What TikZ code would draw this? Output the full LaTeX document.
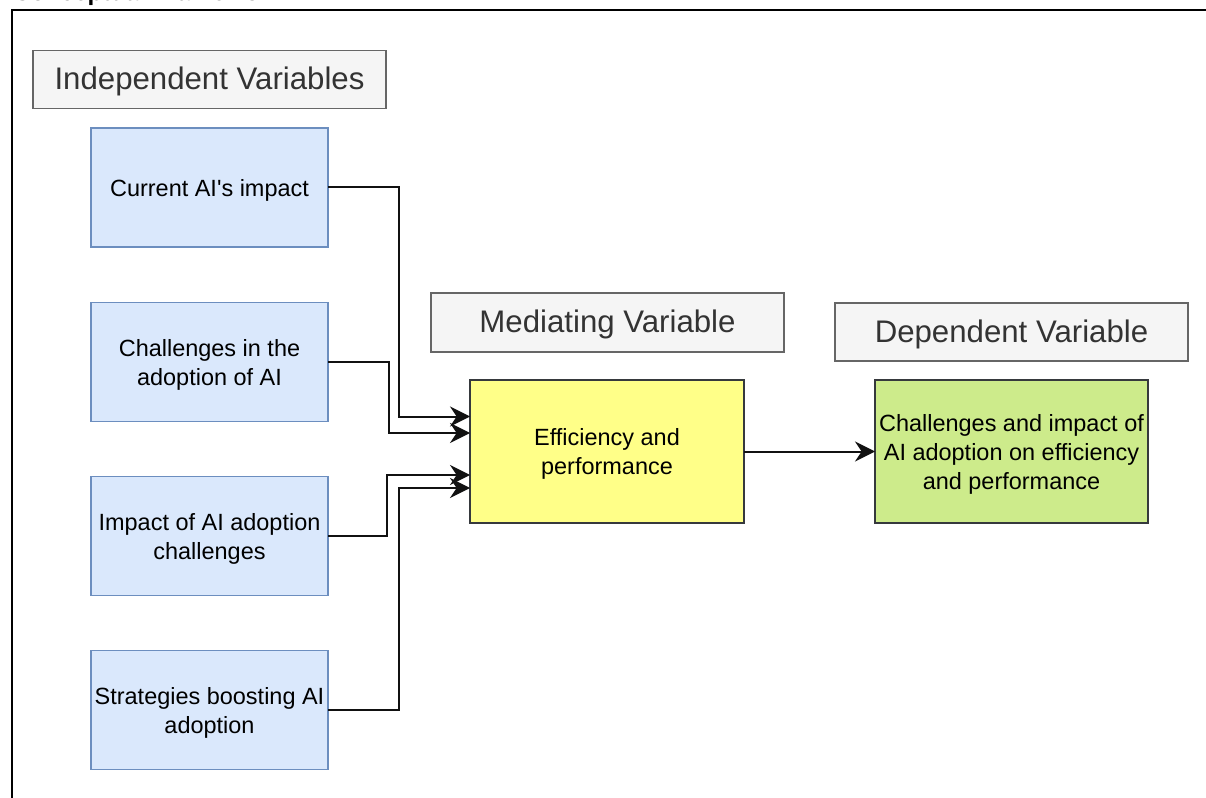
\documentclass[tikz,border=0pt]{standalone}
\usepackage{fontspec}
\setmainfont{Liberation Sans}
\usetikzlibrary{arrows.meta}

\definecolor{ivfill}{HTML}{DAE8FC}
\definecolor{ivline}{HTML}{6C8EBF}
\definecolor{hdfill}{HTML}{F5F5F5}
\definecolor{hdline}{HTML}{666666}
\definecolor{hdtext}{HTML}{333333}
\definecolor{mvfill}{HTML}{FFFF88}
\definecolor{dvfill}{HTML}{CDEB8B}
\definecolor{dkline}{HTML}{36393D}
\definecolor{wire}{HTML}{111111}

% centred lines, set a little below the geometric centre of their box
\newcommand{\boxtext}[1]{\raisebox{-2.2pt}[\height][\depth]{\begin{tabular}{@{}c@{}}#1\end{tabular}}}

\tikzset{
  every node/.style={inner sep=0pt, outer sep=0pt},
  body/.style={font=\fontsize{17.6pt}{21.8pt}\selectfont, text=black},
  header/.style={draw=hdline, fill=hdfill, line width=1.3pt,
    minimum width=264.75pt, minimum height=43.5pt,
    font=\fontsize{23.4pt}{27pt}\selectfont, text=hdtext},
  ivbox/.style={body, draw=ivline, fill=ivfill, line width=1.3pt,
    minimum width=177.75pt, minimum height=89.25pt},
  mvbox/.style={body, draw=dkline, fill=mvfill, line width=1.3pt,
    minimum width=205.5pt, minimum height=107.25pt},
  dvbox/.style={body, draw=dkline, fill=dvfill, line width=1.3pt,
    minimum width=204.75pt, minimum height=107.25pt},
  link/.style={draw=wire, line width=1.5pt,
    -{Stealth[length=15pt, width=15pt, inset=5pt]}},
}

\begin{document}
\begin{tikzpicture}[x=0.75pt, y=-0.75pt]
  \useasboundingbox (0,0) rectangle (1206,798);

  % frame title (cut by the page edge) and the frame
  \node[anchor=base west, font=\bfseries\fontsize{18.3pt}{22pt}\selectfont]
    (title) at (13,0.5) {Conceptual Framework};
  \draw[line width=2.2pt] (12,810) -- (12,10) -- (1215,10);

  % headers
  \node[header] (hiv) at (209.5,79.5) {\boxtext{Independent Variables}};
  \node[header, minimum height=44.25pt] (hmv) at (607.5,322.5) {\boxtext{Mediating Variable}};
  \node[header] (hdv) at (1011.5,332) {\boxtext{Dependent Variable}};

  % independent variables
  \node[ivbox] (iv1) at (209.5,187.5) {\boxtext{Current AI\textquotesingle s impact}};
  \node[ivbox] (iv2) at (209.5,362) {\boxtext{Challenges in the\\adoption of AI}};
  \node[ivbox] (iv3) at (209.5,536) {\boxtext{Impact of AI adoption\\challenges}};
  \node[ivbox] (iv4) at (209.5,710) {\boxtext{Strategies boosting AI\\adoption}};

  % mediating and dependent variables
  \node[mvbox] (mv) at (607,451.5) {\boxtext{Efficiency and\\performance}};
  \node[dvbox] (dv) at (1011.5,451.5) {\boxtext{Challenges and impact of\\AI adoption on efficiency\\and performance}};

  % connectors
  \draw[link] (iv1.east) -| (399,416.5) -- (mv.west |- 0,416.5);
  \draw[link] (iv2.east) -| (389,433) -- (mv.west |- 0,433);
  \draw[link] (iv3.east) -| (387,475) -- (mv.west |- 0,475);
  \draw[link] (iv4.east) -| (399,488) -- (mv.west |- 0,488);
  \draw[link] (mv.east) -- (dv.west);
\end{tikzpicture}
\end{document}
